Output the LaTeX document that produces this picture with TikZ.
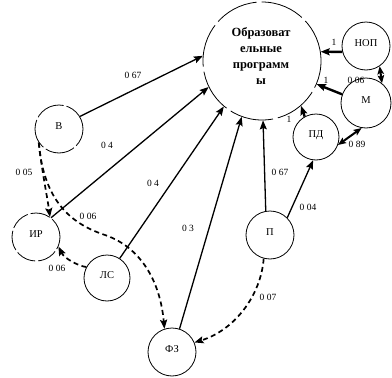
\documentclass[tikz,border=0pt]{standalone}
\usepackage{fontspec}
\setmainfont{Liberation Serif}
\usetikzlibrary{arrows.meta}
\begin{document}
\begin{tikzpicture}[x=1pt,y=-1pt,
  state/.style={circle, draw, line width=0.8pt, inner sep=0pt, minimum size=48pt,
    text height=7pt, text depth=6pt, font=\fontsize{10.5}{12}\selectfont},
  tip/.style={-{Stealth[length=9pt,width=7pt,inset=1.5pt]}},
  link/.style={tip, line width=1.3pt},
  heavy/.style={tip, line width=2.4pt},
  both/.style={{Stealth[length=8pt,width=6.5pt,inset=1.5pt]}-{Stealth[length=8pt,width=6.5pt,inset=1.5pt]}, line width=2pt},
  dlink/.style={tip, line width=1.7pt, dash pattern=on 5pt off 3.5pt},
  wt/.style={font=\fontsize{9.5}{11}\selectfont, inner sep=0.5pt}
]
\useasboundingbox (0,0) rectangle (392,378);

% central node
\node[state, minimum size=118pt, dash pattern=on 44pt off 5pt] (prog) at (262,61) {};
\node[font=\bfseries\fontsize{12.5}{15.7}\selectfont, align=center] (progtext) at (261,56)
  {Образоват\\ельные\\программ\\ы};

% factor nodes
\node[state] (NOP) at (366,46) {НОП};
\node[state, minimum size=50pt] (M) at (366,103) {М};
\node[state, minimum size=46pt] (PD) at (316,137) {ПД};
\node[state] (P) at (270,235) {П};
\node[state] (FZ) at (172,352) {ФЗ};
\node[state, minimum size=46pt] (LS) at (107,278) {ЛС};
\node[state, dash pattern=on 20pt off 3pt] (IR) at (36,237) {ИР};
\node[state, dash pattern=on 30pt off 3pt] (B) at (59,129) {В};

% direct influences on the programmes
\draw[link] (B.31) -- (prog.175);
\draw[link] (IR.52) -- (prog.206);
\draw[link] (LS.57) -- (prog.230);
\draw[link] (FZ.72) -- (prog.250);
\draw[link] (P.100) -- (prog.271);
\draw[link] (P.45) -- (PD.263);
\draw[heavy] (PD.119) -- (prog.311);
\draw[heavy] (M.160) -- (prog.337);
\draw[heavy] (NOP.194) -- (prog.9);
\draw[both] (NOP.304) -- (M.51);
\draw[both] (PD.-20) -- (M.260);

% indirect (dashed) influences
\draw[dlink] (B.214) .. controls (42,172) and (47,195) .. (IR.55);
\draw[dlink] (B.214) .. controls (44,205) and (75,225) .. (105,235)
  .. controls (140,247) and (160,280) .. (FZ.108);
\draw[dlink] (LS.152) .. controls (78,266) and (64,258) .. (IR.-23);
\draw[dlink] (P.255) .. controls (261,295) and (235,330) .. (FZ.23);

% weights
\node[wt] (w1) at (133,75) {0 67};
\node[wt] (w2) at (107,145) {0 4};
\node[wt] (w3) at (153,183) {0 4};
\node[wt] (w4) at (188,228) {0 3};
\node[wt] (w5) at (280,172) {0 67};
\node[wt] (w6) at (308,207) {0 04};
\node[wt] (w7) at (289,119) {1};
\node[wt] (w8) at (326,80) {1};
\node[wt] (w9) at (334,42) {1};
\node[wt] (w10) at (356,80) {0 06};
\node[wt] (w11) at (357,144) {0 89};
\node[wt] (w12) at (24,172) {0 05};
\node[wt] (w13) at (88,216) {0 06};
\node[wt] (w14) at (57,268) {0 06};
\node[wt] (w15) at (268,297) {0 07};
\end{tikzpicture}
\end{document}
